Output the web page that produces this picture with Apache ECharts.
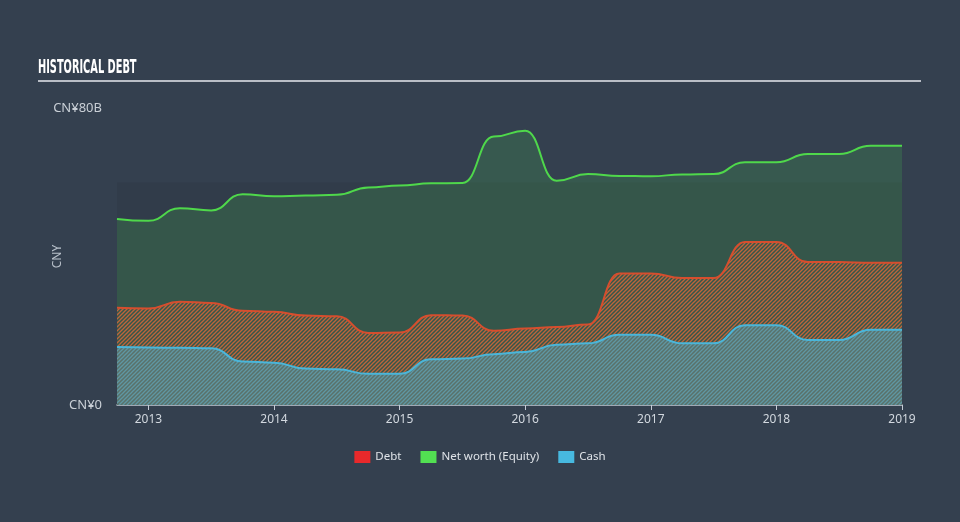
<!DOCTYPE html>
<html><head><meta charset="utf-8">
<script src="https://cdn.jsdelivr.net/npm/echarts@6/dist/echarts.min.js"></script>
<style>html,body{margin:0;padding:0;background:#34404f;}#c{width:960px;height:522px;}</style>
</head><body><div id="c"></div>
<script>
const dates = ['2012-09','2012-12','2013-03','2013-06','2013-09','2013-12',
 '2014-03','2014-06','2014-09','2014-12','2015-03','2015-06','2015-09','2015-12',
 '2016-03','2016-06','2016-09','2016-12','2017-03','2017-06','2017-09','2017-12',
 '2018-03','2018-06','2018-09','2018-12'];
const equity = [50.1,49.6,53.0,52.4,56.8,56.2,56.4,56.6,58.6,59.1,59.7,59.8,72.3,73.9,
 60.4,62.2,61.7,61.6,62.1,62.2,65.4,65.4,67.6,67.6,69.8,69.8];
const debt = [26.2,26.0,27.8,27.5,25.4,25.1,24.1,23.9,19.4,19.5,24.2,24.1,20.0,20.6,
 21.0,21.7,35.4,35.4,34.2,34.2,43.9,43.9,38.5,38.5,38.3,38.3];
const cash = [15.6,15.5,15.4,15.3,11.7,11.4,9.8,9.6,8.4,8.4,12.3,12.5,13.7,14.3,
 16.2,16.6,18.9,18.9,16.6,16.6,21.5,21.5,17.5,17.5,20.3,20.3];
const yearTicks = [2013,2014,2015,2016,2017,2018,2019];

const toYear = d => { const p = d.split('-'); return +p[0] + (+p[1])/12; };
const xs = dates.map(toYear);

function hatch(bg, stripe){
  const c = document.createElement('canvas'); c.width = 4; c.height = 4;
  const g = c.getContext('2d');
  if (bg) { g.fillStyle = bg; g.fillRect(0,0,4,4); }
  g.strokeStyle = stripe; g.lineWidth = 1.3;
  g.beginPath(); g.moveTo(0,4); g.lineTo(4,0); g.stroke();
  g.beginPath(); g.moveTo(-1,1); g.lineTo(1,-1); g.stroke();
  g.beginPath(); g.moveTo(3,5); g.lineTo(5,3); g.stroke();
  return c;
}
const pair = a => xs.map((x,i)=>[x,a[i]]);
const chart = echarts.init(document.getElementById('c'), null, {renderer:'canvas'});
const font = "'Noto Sans', sans-serif";
chart.setOption({
  backgroundColor:'#34404f',
  animation:false,
  graphic:[
    {type:'text', left:38, top:58, scaleX:0.49, style:{text:'HISTORICAL DEBT', fill:'#ffffff',
      font:"bold 20px 'DejaVu Sans', sans-serif"}},
    {type:'line', shape:{x1:38,y1:81,x2:921,y2:81}, style:{stroke:'#b9bec6', lineWidth:2}}],
  grid:{left:117, right:58, top:108, bottom:117},
  legend:{bottom:54, left:'center', icon:'rect', itemWidth:16, itemHeight:12, itemGap:19,
    textStyle:{color:'#dfe3e8', fontSize:11.5, fontFamily:font},
    data:[{name:'Debt', itemStyle:{color:'#e8292b'}},{name:'Net worth (Equity)', itemStyle:{color:'#52e052'}},{name:'Cash', itemStyle:{color:'#47b9e0'}}]},
  xAxis:{type:'value', min:xs[0], max:xs[xs.length-1],
    axisLine:{lineStyle:{color:'#c5ccd6', width:1.5}},
    axisTick:{show:true, length:5, lineStyle:{color:'#c5ccd6'}, customValues: yearTicks},
    axisLabel:{color:'#d2d8df', fontSize:12, fontFamily:font, margin:9,
      customValues: yearTicks, formatter: v => String(Math.round(v))},
    splitLine:{show:false}},
  yAxis:{type:'value', min:0, max:80, interval:80, name:'CNY', nameLocation:'middle', nameGap:53,
    nameMoveOverlap:false,
    nameTextStyle:{color:'#b8c0ca', fontSize:12, fontFamily:font},
    axisLine:{show:false}, axisTick:{show:false}, splitLine:{show:false},
    axisLabel:{color:'#c9cfd6', fontSize:13, fontFamily:font, margin:15,
      formatter: v => v===0 ? 'CN¥0' : 'CN¥'+v+'B'}},
  series:[
    {name:'Net worth (Equity)', type:'line', data:pair(equity), smooth:0.5, smoothMonotone:'x', showSymbol:false,
      lineStyle:{color:'#4fd84b', width:2}, itemStyle:{color:'#52e052'},
      areaStyle:{color:'rgba(76,210,80,0.25)'}, z:1,
      markArea:{silent:true, itemStyle:{color:'rgba(0,0,0,0.05)'},
        data:[[{xAxis:xs[0], yAxis:0},{xAxis:xs[xs.length-1], yAxis:60}]]}},
    {name:'Debt', type:'line', data:pair(debt), smooth:0.5, smoothMonotone:'x', showSymbol:false,
      lineStyle:{color:'#d64e2e', width:2}, itemStyle:{color:'#e8292b'},
      areaStyle:{color:{image:hatch(null,'rgba(225,105,55,0.8)'), repeat:'repeat'}, opacity:1}, z:2},
    {name:'Cash', type:'line', data:pair(cash), smooth:0.5, smoothMonotone:'x', showSymbol:false,
      lineStyle:{color:'#4ab6da', width:2}, itemStyle:{color:'#47b9e0'},
      areaStyle:{color:{image:hatch('#5a716a','rgba(95,155,170,0.9)'), repeat:'repeat'}, opacity:1}, z:3}
  ]
});
</script></body></html>
